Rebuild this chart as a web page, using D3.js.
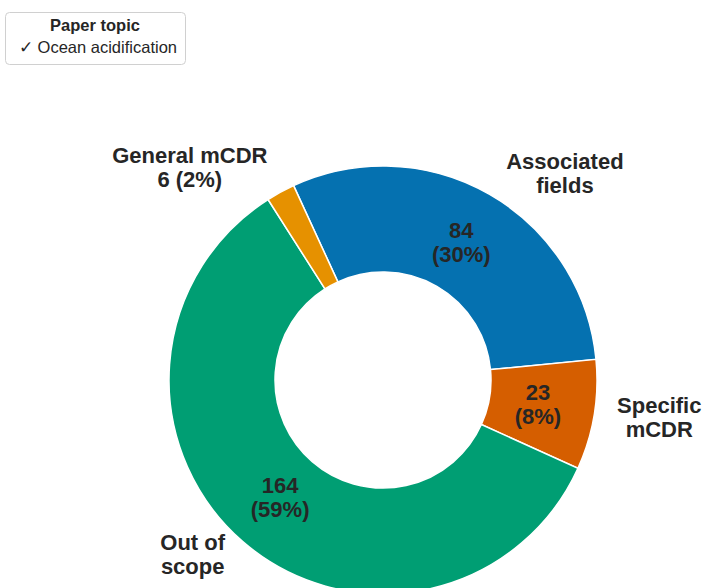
<!DOCTYPE html>
<html>
<head>
<meta charset="utf-8">
<script src="https://cdn.jsdelivr.net/npm/d3@7"></script>
<style>
  html, body { margin: 0; padding: 0; background: #fff; }
  svg { display: block; font-family: "Liberation Sans", Arial, Helvetica, sans-serif; }
</style>
</head>
<body>
<svg id="chart" width="708" height="588"></svg>
<script>
// Paper counts by topic (clockwise order of the donut)
const categories = ["Associated fields", "Specific mCDR", "Out of scope", "General mCDR"];
const counts = [84, 23, 164, 6];
const colors = ["#0571b0", "#d55e00", "#009e73", "#e69100"];

// Outside category labels, split into lines
const labelLines = [["Associated", "fields"], ["Specific", "mCDR"], ["Out of", "scope"], ["General mCDR", null]];

// Legend text
const legendTitle = "Paper topic";
const legendItem = "\u2713 Ocean acidification";

// Layout
const width = 708, height = 588;
const cx = 383, cy = 380;
const outerR = 214, innerR = 108;
const startDeg = -24.7;
// Outer label placement (angle in degrees from 12 o'clock, distance from centre)
const outerPlacement = [[41.6, 274], [98, 279], [227.3, 259], [-42.5, 286]];
const textColor = "#262626";

const svg = d3.select("#chart");
const total = d3.sum(counts);
const pct = v => Math.round(v / total * 100) + "%";

const pie = d3.pie().sort(null).value(d => d)
  .startAngle(startDeg * Math.PI / 180)
  .endAngle(startDeg * Math.PI / 180 + 2 * Math.PI);
const arcs = pie(counts);
const arc = d3.arc().innerRadius(innerR).outerRadius(outerR);

const g = svg.append("g").attr("transform", `translate(${cx},${cy})`);

g.selectAll("path.slice")
  .data(arcs)
  .join("path")
  .attr("class", "slice")
  .attr("d", arc)
  .attr("fill", (d, i) => colors[i])
  .attr("stroke", "#fff")
  .attr("stroke-width", 1.5);

// Value labels inside the ring (all but the smallest slice)
const labelArc = d3.arc().innerRadius(157).outerRadius(157);
const inner = g.selectAll("g.inlabel")
  .data(arcs.filter(d => d.value >= 10))
  .join("g")
  .attr("class", "inlabel")
  .attr("transform", d => `translate(${labelArc.centroid(d)})`);
inner.append("text")
  .attr("text-anchor", "middle").attr("y", -6)
  .attr("font-size", 22).attr("font-weight", "bold").attr("fill", textColor)
  .text(d => d.value);
inner.append("text")
  .attr("text-anchor", "middle").attr("y", 18)
  .attr("font-size", 22).attr("font-weight", "bold").attr("fill", textColor)
  .text(d => `(${pct(d.value)})`);

// Category labels outside the ring
arcs.forEach((d, i) => {
  const [deg, r] = outerPlacement[i];
  const a = deg * Math.PI / 180;
  const x = r * Math.sin(a), y = -r * Math.cos(a);
  let lines = labelLines[i].slice();
  if (lines[1] === null) lines[1] = `${d.value} (${pct(d.value)})`;
  const t = g.append("text")
    .attr("text-anchor", "middle")
    .attr("font-size", 22).attr("font-weight", "bold").attr("fill", textColor);
  lines.forEach((ln, k) => {
    t.append("tspan").attr("x", x).attr("y", y - 6 + k * 24).text(ln);
  });
});

// Legend box
const lg = svg.append("g");
lg.append("rect")
  .attr("x", 5.5).attr("y", 12.5).attr("width", 180).attr("height", 52)
  .attr("rx", 4).attr("fill", "#fff").attr("stroke", "#d0d0d0").attr("stroke-width", 1);
lg.append("text")
  .attr("x", 95).attr("y", 31).attr("text-anchor", "middle")
  .attr("font-size", 16.5).attr("font-weight", "bold").attr("fill", textColor)
  .text(legendTitle);
lg.append("text")
  .attr("x", 19).attr("y", 53)
  .attr("font-size", 16.5).attr("fill", textColor)
  .text(legendItem);
</script>
</body>
</html>
